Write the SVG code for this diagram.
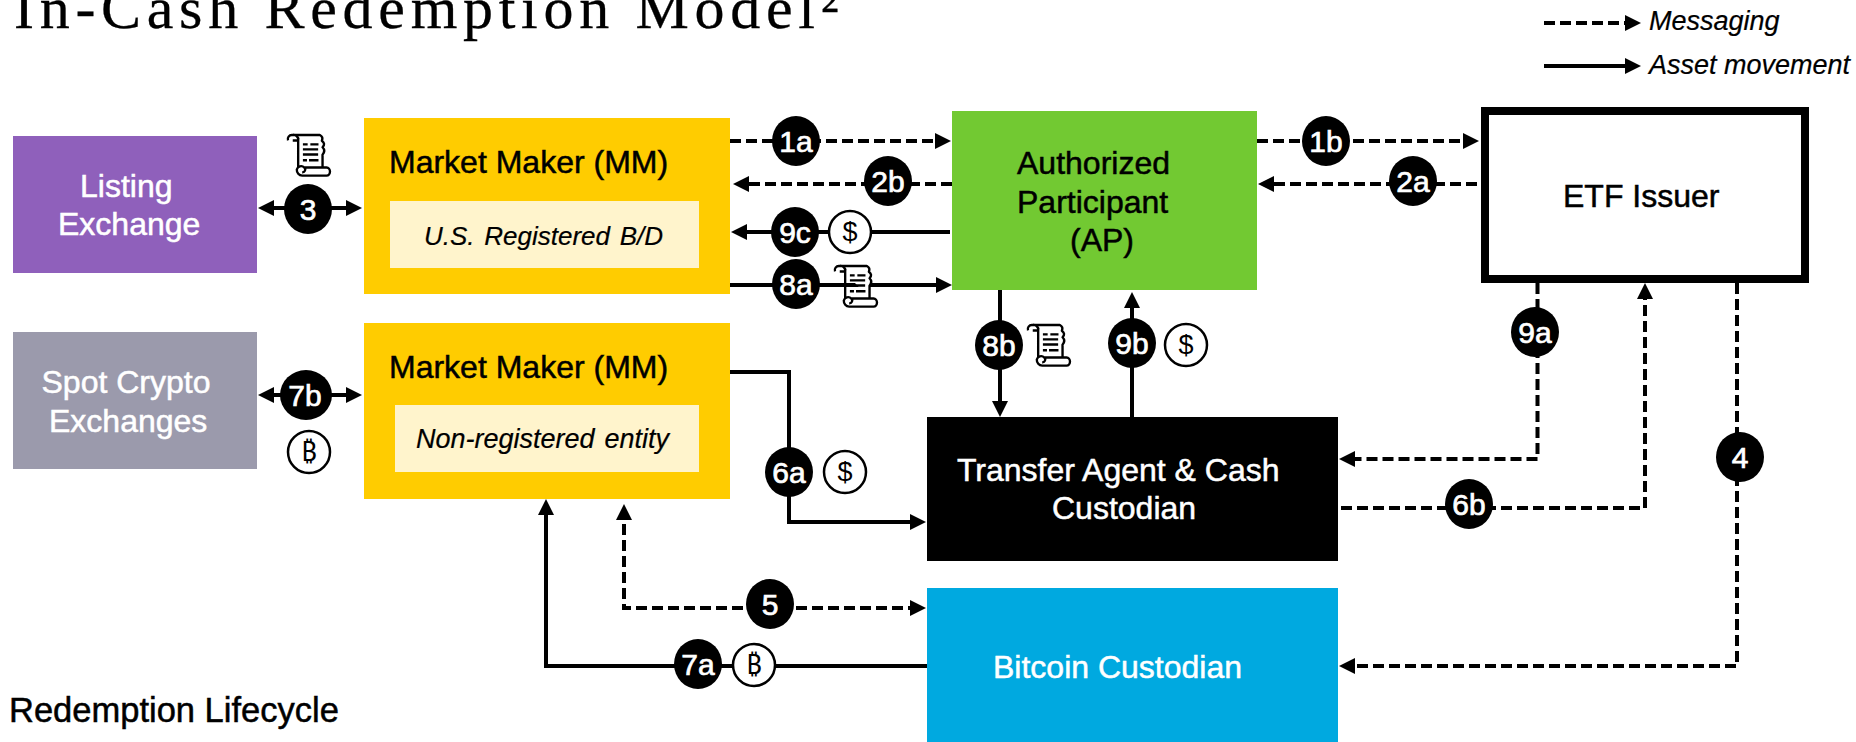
<svg xmlns="http://www.w3.org/2000/svg" width="1856" height="742" viewBox="0 0 1856 742">
<style>
text{font-family:"Liberation Sans",Arial,sans-serif;font-size:32px;fill:#000;stroke:#000;stroke-width:.5px}
.w{fill:#fff;stroke:#fff}
.i{font-style:italic;font-size:26px;word-spacing:2.500px;stroke-width:.2px}
.title{font-family:"Liberation Serif","Times New Roman",serif;font-size:60px;letter-spacing:5.700px;stroke-width:.3px}
.d,.s{fill:none;stroke:#000;stroke-width:4;stroke-linejoin:miter}
.d{stroke-dasharray:11 5}
.e{marker-end:url(#a)}
.b{marker-start:url(#r);marker-end:url(#a)}
.bd{fill:#000}
.bt{font-size:30px;fill:#fff;stroke:#fff;stroke-width:.7px;text-anchor:middle}
.c{fill:#fff;stroke:#000;stroke-width:2.500}
.ct{font-size:27px;text-anchor:middle;stroke-width:0}
.bc{font-family:"Noto Sans","DejaVu Sans",sans-serif;font-size:27px;text-anchor:middle;stroke-width:0}
</style>
<defs>
<marker id="a" markerUnits="userSpaceOnUse" markerWidth="16" markerHeight="16" refX="12" refY="8" orient="auto"><path d="M0 0L16 8L0 16Z" fill="#000"/></marker>
<marker id="r" markerUnits="userSpaceOnUse" markerWidth="16" markerHeight="16" refX="4" refY="8" orient="auto"><path d="M16 0L0 8L16 16Z" fill="#000"/></marker>
<symbol id="scroll" viewBox="145 70 130 130" overflow="visible">
<path d="M160 76H242Q253 82 248 93Q260 102 250 112Q260 122 250 134V172M178 92V172M148 92a12 12 0 0 1 12-16 14 14 0 0 1 18 16H162M196 172H262a10 12 0 0 1 0 24H190a17 17 0 0 1-16-18 13 13 0 0 1 22-6 8 8 0 0 1-6 14" fill="#fff" stroke="#000" stroke-width="7" stroke-linejoin="round"/>
<path d="M192 100h14v7h-14zM214 100h24v7h-24zM192 115h45v7h-45zM192 130h45v7h-45zM192 147h12v7h-12zM210 147h28v7h-28z" fill="#000"/>
</symbol>
</defs>
<rect width="1856" height="742" fill="#fff"/>
<text id="title" class="title" x="14" y="28">In-Cash Redemption Model²</text>
<g id="legend">
<path class="d e" d="M1544 23H1637"/>
<path class="s e" d="M1544 66H1637"/>
<text class="i" style="font-size:27px;word-spacing:0" x="1649" y="30">Messaging</text>
<text class="i" style="font-size:27px;word-spacing:0" x="1649" y="74">Asset movement</text>
</g>
<text id="lifecycle" x="9" y="722" style="font-size:34.500px">Redemption Lifecycle</text>
<g id="connectors">
<path class="d e" d="M730 141H947"/>
<path class="d e" d="M952 184H737"/>
<path class="s e" d="M950 232H735"/>
<path class="s e" d="M730 285H948"/>
<path class="s b" d="M262 208H358"/>
<path class="s b" d="M262 395H358"/>
<path class="d e" d="M1257 141H1475"/>
<path class="d e" d="M1477 184H1262"/>
<path class="s e" d="M1000 290V413"/>
<path class="s e" d="M1132 417V296"/>
<path class="d e" d="M1537.500 283V459H1343"/>
<path class="d e" d="M1341 508H1645V287"/>
<path class="d e" d="M1737 283V666H1343"/>
<path class="s e" d="M730 372H789V522H922"/>
<path class="d b" d="M624 508V608H922"/>
<path class="s e" d="M927 666H546V503"/>
</g>
<g id="listing"><rect x="13" y="136" width="244" height="137" fill="#8F60BB"/><text class="w" x="80" y="197">Listing</text><text class="w" x="58" y="235">Exchange</text></g>
<g id="spot"><rect x="13" y="332" width="244" height="137" fill="#9B9AAC"/><text class="w" x="41.500" y="393">Spot Crypto</text><text class="w" x="49" y="432">Exchanges</text></g>
<g id="mm1"><rect x="364" y="118" width="366" height="176" fill="#FFCC00"/><rect x="390" y="201" width="309" height="67" fill="#FFF4CC"/><text x="389" y="173">Market Maker (MM)</text><text class="i" x="424" y="245">U.S. Registered B/D</text></g>
<g id="mm2"><rect x="364" y="323" width="366" height="176" fill="#FFCC00"/><rect x="395" y="405" width="304" height="67" fill="#FFF4CC"/><text x="389" y="378">Market Maker (MM)</text><text class="i" style="font-size:27px" x="416" y="448">Non-registered entity</text></g>
<g id="ap"><rect x="952" y="111" width="305" height="179" fill="#72C932"/><text x="1017" y="174">Authorized</text><text x="1017" y="213">Participant</text><text x="1070" y="251">(AP)</text></g>
<g id="issuer"><rect x="1485" y="111" width="320" height="168" fill="#fff" stroke="#000" stroke-width="8"/><text x="1563" y="207">ETF Issuer</text></g>
<g id="transfer"><rect x="927" y="417" width="411" height="144" fill="#000"/><text class="w" x="957" y="481">Transfer Agent &amp; Cash</text><text class="w" x="1052" y="519">Custodian</text></g>
<g id="bitcoin"><rect x="927" y="588" width="411" height="154" fill="#00A9E0"/><text class="w" x="993" y="678">Bitcoin Custodian</text></g>
<g id="badges">
<g id="b1a"><ellipse class="bd" cx="796" cy="141" rx="24" ry="25"/><text class="bt" x="796" y="152">1a</text></g>
<g id="b2b"><ellipse class="bd" cx="888" cy="181" rx="24" ry="25"/><text class="bt" x="888" y="192">2b</text></g>
<g id="b9c"><ellipse class="bd" cx="795" cy="232" rx="24" ry="25"/><text class="bt" x="795" y="243">9c</text></g>
<g id="b8a"><ellipse class="bd" cx="796" cy="284" rx="24" ry="25"/><text class="bt" x="796" y="295">8a</text></g>
<g id="b3"><ellipse class="bd" cx="308" cy="209" rx="24" ry="25"/><text class="bt" x="308" y="220">3</text></g>
<g id="b7b"><ellipse class="bd" cx="306" cy="395" rx="26" ry="25"/><text class="bt" x="305" y="406">7b</text></g>
<g id="b1b"><ellipse class="bd" cx="1326" cy="141" rx="24" ry="25"/><text class="bt" x="1326" y="152">1b</text></g>
<g id="b2a"><ellipse class="bd" cx="1413" cy="181" rx="24" ry="25"/><text class="bt" x="1413" y="192">2a</text></g>
<g id="b8b"><ellipse class="bd" cx="999" cy="345" rx="24" ry="25"/><text class="bt" x="999" y="356">8b</text></g>
<g id="b9b"><ellipse class="bd" cx="1132" cy="343" rx="24" ry="25"/><text class="bt" x="1132" y="354">9b</text></g>
<g id="b9a"><ellipse class="bd" cx="1535" cy="332" rx="24" ry="25"/><text class="bt" x="1535" y="343">9a</text></g>
<g id="b6b"><ellipse class="bd" cx="1469" cy="504" rx="24" ry="25"/><text class="bt" x="1469" y="515">6b</text></g>
<g id="b4"><ellipse class="bd" cx="1740" cy="457" rx="24" ry="25"/><text class="bt" x="1740" y="468">4</text></g>
<g id="b6a"><ellipse class="bd" cx="789" cy="472" rx="24" ry="25"/><text class="bt" x="789" y="483">6a</text></g>
<g id="b5"><ellipse class="bd" cx="770" cy="604" rx="24" ry="25"/><text class="bt" x="770" y="615">5</text></g>
<g id="b7a"><ellipse class="bd" cx="698" cy="664" rx="24" ry="25"/><text class="bt" x="698" y="675">7a</text></g>
</g>
<g id="icons">
<use href="#scroll" x="287" y="133" width="44" height="44"/>
<use href="#scroll" x="834" y="264" width="44" height="44"/>
<use href="#scroll" x="1027" y="323" width="44" height="44"/>
<g><ellipse class="c" cx="850" cy="232" rx="21" ry="21"/><text class="ct" x="850" y="241">$</text></g>
<g><ellipse class="c" cx="1186" cy="345" rx="21" ry="21"/><text class="ct" x="1186" y="354">$</text></g>
<g><ellipse class="c" cx="845" cy="472" rx="21" ry="21"/><text class="ct" x="845" y="481">$</text></g>
<g><ellipse class="c" cx="309" cy="452" rx="21" ry="21"/><text class="bc" x="309" y="461">₿</text></g>
<g><ellipse class="c" cx="754" cy="665" rx="21" ry="21"/><text class="bc" x="754" y="674">₿</text></g>
</g>
</svg>
